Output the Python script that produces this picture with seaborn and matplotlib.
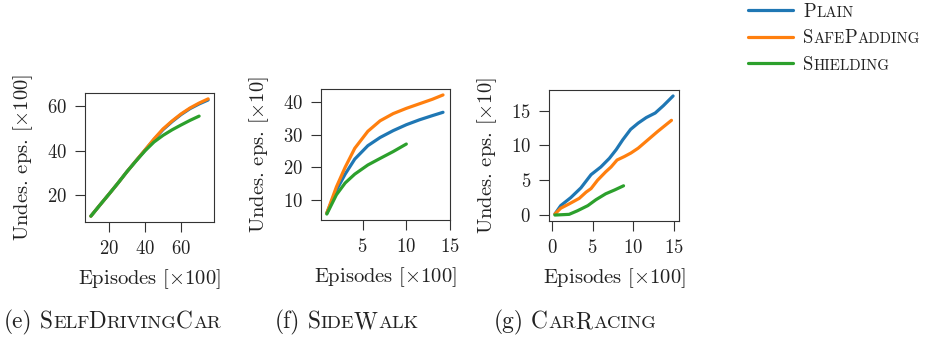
import numpy as np
import pandas as pd
import matplotlib
matplotlib.use("Agg")
import matplotlib.pyplot as plt
from matplotlib.transforms import IdentityTransform
import seaborn as sns

# ---- data -------------------------------------------------------------
methods = ["Plain", "SafePadding", "Shielding"]
colors = ["#1f77b4", "#ff7f0e", "#2ca02c"]

# SelfDrivingCar (episodes x100, undesired episodes x100)
sdc_x = [10, 15, 20, 25, 30, 35, 40, 45, 50, 55, 60, 65, 70, 75]
sdc_plain = [10.4, 15.4, 20.3, 25.3, 30.5, 35.4, 40.2, 45.0, 49.5, 53.1, 56.3, 59.0, 61.1, 62.9]
sdc_safe = [10.4, 15.4, 20.3, 25.3, 30.5, 35.4, 40.3, 45.3, 49.8, 53.4, 56.6, 59.3, 61.5, 63.4]
sdc_shield_x = [10, 15, 20, 25, 30, 35, 40, 45, 50, 55, 60, 65, 70]
sdc_shield = [10.4, 15.4, 20.3, 25.3, 30.5, 35.3, 39.9, 43.9, 46.9, 49.4, 51.6, 53.7, 55.6]

# SideWalk (episodes x100, undesired episodes x10)
sw_x = [0.9, 2.0, 3.0, 4.1, 5.6, 7.0, 8.5, 10.0, 11.5, 13.0, 14.2]
sw_plain = [6.0, 13.0, 17.9, 22.5, 26.6, 29.1, 31.2, 33.0, 34.5, 35.8, 36.8]
sw_safe = [6.0, 14.0, 20.0, 25.8, 31.0, 34.2, 36.4, 38.0, 39.4, 40.8, 42.1]
sw_shield_x = [0.9, 2.0, 3.0, 4.1, 5.6, 7.0, 8.5, 10.0]
sw_shield = [5.7, 11.6, 15.2, 17.9, 20.7, 22.7, 24.8, 27.1]

# CarRacing (episodes x100, undesired episodes x10)
cr_plain_x = [0.35, 1.07, 2.3, 3.55, 4.8, 6.0, 7.06, 7.9, 8.7, 9.67, 10.6, 11.6, 12.7, 13.7, 14.9]
cr_plain = [0.15, 1.36, 2.5, 3.9, 5.8, 6.9, 8.15, 9.4, 10.8, 12.3, 13.2, 14.0, 14.65, 15.7, 17.1]
cr_safe_x = [0.35, 1.07, 2.1, 3.35, 4.2, 4.8, 5.6, 6.6, 7.26, 8.0, 8.9, 9.7, 10.6, 11.8, 13.0, 14.7]
cr_safe = [0.15, 0.98, 1.6, 2.4, 3.3, 3.8, 5.0, 6.2, 6.9, 7.9, 8.4, 8.9, 9.6, 10.8, 12.0, 13.6]
cr_shield_x = [0.35, 2.1, 3.1, 4.4, 5.4, 6.6, 7.7, 8.8]
cr_shield = [0.0, 0.1, 0.6, 1.35, 2.2, 3.05, 3.6, 4.2]

panels = [
    dict(series=[(sdc_x, sdc_plain), (sdc_x, sdc_safe), (sdc_shield_x, sdc_shield)],
         ylabel="Undes. eps. [$\\times$100]", xticks=[20, 40, 60], yticks=[20, 40, 60],
         tag="(e)", name="SelfDrivingCar"),
    dict(series=[(sw_x, sw_plain), (sw_x, sw_safe), (sw_shield_x, sw_shield)],
         ylabel="Undes. eps. [$\\times$10]", xticks=[5, 10, 15], yticks=[10, 20, 30, 40],
         tag="(f)", name="SideWalk"),
    dict(series=[(cr_plain_x, cr_plain), (cr_safe_x, cr_safe), (cr_shield_x, cr_shield)],
         ylabel="Undes. eps. [$\\times$10]", xticks=[0, 5, 10, 15], yticks=[0, 5, 10, 15],
         tag="(g)", name="CarRacing"),
]

# ---- style ------------------------------------------------------------
sns.set_theme(style="ticks")
TICK_FS = 13.5
LABEL_FS = 14.8
LEG_FS = 13.5
CAP_FS = 16.8
plt.rcParams.update({
    "font.family": ["cmr10"],
    "mathtext.fontset": "cm",
    "axes.formatter.use_mathtext": True,
    "axes.unicode_minus": False,
    "axes.edgecolor": "#333333",
    "axes.linewidth": 0.8,
    "xtick.color": "#333333",
    "ytick.color": "#333333",
    "xtick.labelcolor": "#222222",
    "ytick.labelcolor": "#222222",
    "xtick.major.size": 7.5,
    "ytick.major.size": 7.5,
    "xtick.major.width": 0.8,
    "ytick.major.width": 0.8,
    "axes.labelcolor": "#222222",
    "text.color": "#222222",
})

W, H = 926, 342
fig = plt.figure(figsize=(W / 100, H / 100), dpi=100)

boxes = [(85, 93, 214, 222), (321, 89, 450, 220), (549, 90, 679, 221)]
axes = []
for (x0, y0, x1, y1), p in zip(boxes, panels):
    ax = fig.add_axes([x0 / W, (H - y1) / H, (x1 - x0) / W, (y1 - y0) / H])
    frames = []
    for m, (xs, ys) in zip(methods, p["series"]):
        frames.append(pd.DataFrame({"Method": m, "Episodes": xs, "Undesired": ys}))
    df = pd.concat(frames, ignore_index=True)
    sns.lineplot(data=df, x="Episodes", y="Undesired", hue="Method", hue_order=methods,
                 palette=colors, linewidth=2.3, estimator=None, errorbar=None,
                 ax=ax, legend=(len(axes) == 0))
    ax.set_xticks(p["xticks"])
    ax.set_yticks(p["yticks"])
    ax.tick_params(labelsize=TICK_FS, pad=5.5)
    ax.set_xlabel("Episodes [$\\times$100]", fontsize=LABEL_FS, labelpad=6.5)
    ax.set_ylabel(p["ylabel"], fontsize=LABEL_FS, labelpad=8.5)
    axes.append(ax)

handles, labels = axes[0].get_legend_handles_labels()
axes[0].get_legend().remove()
leg = fig.legend(handles, labels, loc="upper left", bbox_to_anchor=(748 / W, 1 - 3 / H),
                 frameon=False, handlelength=2.4, handletextpad=0.53, labelspacing=0.45,
                 borderpad=0, borderaxespad=0, fontsize=LEG_FS)
for h in leg.get_lines():
    h.set_linewidth(2.3)


def smallcaps(fig, renderer, x, y, s, size, ratio=0.8):
    """Write s in small capitals starting at display point (x, y) on the baseline."""
    runs = []
    for ch in s:
        small = ch.islower()
        if runs and runs[-1][1] == small:
            runs[-1][0] += ch
        else:
            runs.append([ch, small])
    for chunk, small in runs:
        t = fig.text(x, y, chunk.upper() if small else chunk,
                     fontsize=size * ratio if small else size,
                     transform=IdentityTransform(), ha="left", va="baseline")
        x = t.get_window_extent(renderer).x1 + (-0.8 if small else 0.6)
    return x


fig.canvas.draw()
renderer = fig.canvas.get_renderer()

# legend labels in small capitals
for t in leg.get_texts():
    bx, by = t.get_transform().transform((0, 0))
    t.set_alpha(0)
    smallcaps(fig, renderer, bx, by, t.get_text(), LEG_FS)

# sub-figure captions
cap_x = [4, 275, 494]
cap_base = H - 328.5
for cx, p in zip(cap_x, panels):
    t = fig.text(cx, cap_base, p["tag"], fontsize=CAP_FS, transform=IdentityTransform(),
                 ha="left", va="baseline")
    nx = t.get_window_extent(renderer).x1 + 0.3 * CAP_FS * 100 / 72
    smallcaps(fig, renderer, nx, cap_base, p["name"], CAP_FS)

fig.savefig("out.png", dpi=100)
